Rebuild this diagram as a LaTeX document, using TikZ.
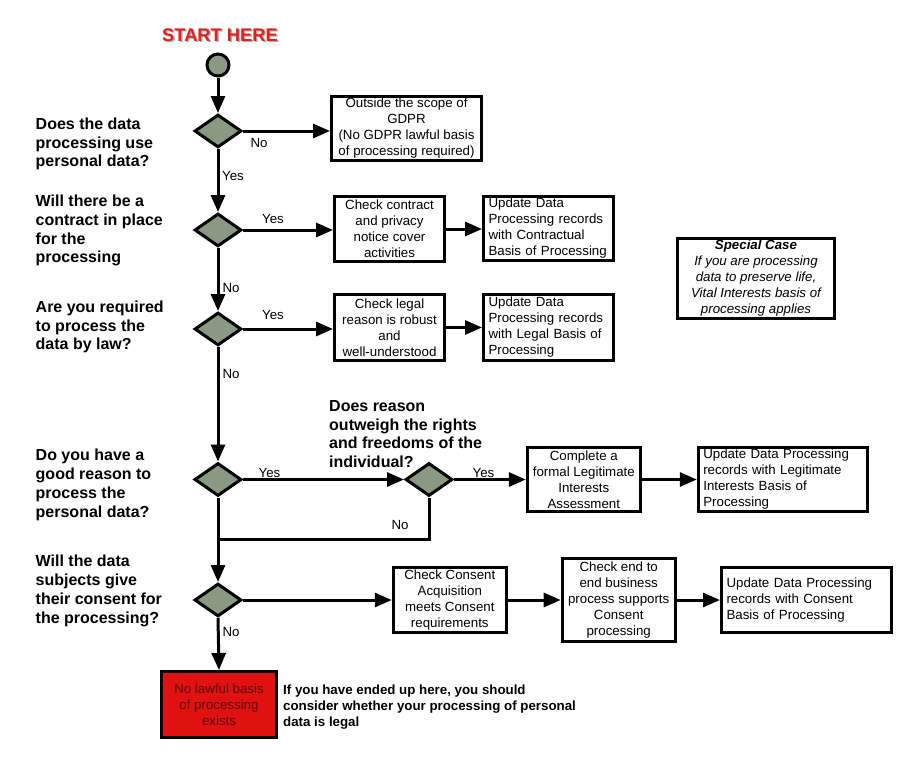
\documentclass[tikz,border=0pt]{standalone}
\usepackage{fontspec}
\setmainfont{Liberation Sans}
\usetikzlibrary{arrows.meta,shapes.geometric}
\definecolor{decfill}{RGB}{137,153,131}
\definecolor{stopred}{RGB}{224,18,18}
\definecolor{startred}{RGB}{222,32,32}
\definecolor{stoptext}{RGB}{95,12,12}
\definecolor{shade}{RGB}{175,175,175}

\begin{document}
\begin{tikzpicture}[x=1pt,y=-1pt,
  txt/.style={font=\fontsize{13.3}{16}\selectfont},
  question/.style={font=\bfseries\fontsize{16}{18.8}\selectfont, align=left, anchor=west, inner sep=0pt},
  box/.style={draw, line width=3pt, fill=white, inner sep=0pt, align=center, txt},
  lbox/.style={box, align=left, inner xsep=5pt},
  decision/.style={diamond, draw, line width=3pt, fill=decfill, inner sep=0pt,
                   minimum width=47pt, minimum height=33pt},
  lbl/.style={txt, inner sep=0pt},
  flow/.style={line width=3pt, -{Triangle[length=17pt,width=14pt]}},
  plain/.style={line width=3pt},
]
\useasboundingbox (0,0) rectangle (920,776);
\fill[white] (0,0) rectangle (920,776);

% title and start point
\node[font=\bfseries\fontsize{18.3}{20}\selectfont, text=shade] (titleshadow) at (221.5,36.5) {START HERE};
\node[font=\bfseries\fontsize{18.3}{20}\selectfont, text=startred] (title) at (220,35) {START HERE};
\node[circle, draw, line width=3pt, fill=decfill, minimum size=22pt, inner sep=0pt] (start) at (218,65) {};

% questions on the left
\node[question] (q1) at (35.5,144) {Does the data\\processing use\\personal data?};
\node[question] (q2) at (35.5,230.5) {Will there be a\\contract in place\\for the\\processing};
\node[question] (q3) at (35.5,327) {Are you required\\to process the\\data by law?};
\node[question] (q4) at (35.5,485) {Do you have a\\good reason to\\process the\\personal data?};
\node[question] (q5) at (35.5,591) {Will the data\\subjects give\\their consent for\\the processing?};
\node[question] (q45) at (329,434) {Does reason\\outweigh the rights\\and freedoms of the\\individual?};

% decisions
\node[decision] (d1) at (218,131) {};
\node[decision] (d2) at (218,230) {};
\node[decision] (d3) at (218,329) {};
\node[decision] (d4) at (218,479.5) {};
\node[decision] (d5) at (429,479.5) {};
\node[decision] (d6) at (218,600) {};

% process boxes
\node[box, minimum width=150pt, minimum height=64pt] (b1) at (406.5,128.5)
  {Outside the scope of\\GDPR\\(No GDPR lawful basis\\of processing required)};
\node[box, minimum width=110pt, minimum height=65pt] (b2a) at (389.5,229)
  {Check contract\\and privacy\\notice cover\\activities};
\node[lbox, text width=120pt, minimum height=64pt] (b2b) at (548.5,228.5)
  {Update Data\\Processing records\\with Contractual\\Basis of Processing};
\node[box, minimum width=110pt, minimum height=66pt] (b3a) at (389.5,327.5)
  {Check legal\\reason is robust\\and\\well-understood};
\node[lbox, text width=120pt, minimum height=66pt] (b3b) at (548.5,327.5)
  {Update Data\\Processing records\\with Legal Basis of\\Processing};
\node[box, minimum width=113pt, minimum height=64pt] (b5a) at (583.8,479.5)
  {Complete a\\formal Legitimate\\Interests\\Assessment};
\node[lbox, text width=159pt, minimum height=64pt] (b5b) at (782.8,479.5)
  {Update Data Processing\\records with Legitimate\\Interests Basis of\\Processing};
\node[box, minimum width=113pt, minimum height=65pt] (b6a) at (449.8,600)
  {Check Consent\\Acquisition\\meets Consent\\requirements};
\node[box, minimum width=113pt, minimum height=83pt] (b6b) at (618.7,600)
  {Check end to\\end business\\process supports\\Consent\\processing};
\node[lbox, text width=160pt, minimum height=65pt] (b6c) at (806.5,600)
  {Update Data Processing\\records with Consent\\Basis of Processing};

% special case note
\node[box, font=\itshape\fontsize{13.3}{16}\selectfont, minimum width=157pt, minimum height=80pt] (special) at (756,278.3)
  {\textbf{Special Case}\\If you are processing\\data to preserve life,\\Vital Interests basis of\\processing applies};

% end point without a lawful basis
\node[box, fill=stopred, text=stoptext, minimum width=115pt, minimum height=66pt] (stop) at (219,704.5)
  {No lawful basis\\of processing\\exists};
\node[font=\bfseries\fontsize{13.3}{16}\selectfont, align=left, anchor=west, inner sep=0pt] (warn) at (283,707.5)
  {If you have ended up here, you should\\consider whether your processing of personal\\data is legal};

% connectors
\draw[flow] (start.south) -- (d1.north);
\draw[flow] (d1.east) -- (d1.east -| b1.west);
\draw[flow] (d1.south) -- (d2.north);
\draw[flow] (d2.east) -- (d2.east -| b2a.west);
\draw[flow] (b2a.east) -- (b2a.east -| b2b.west);
\draw[flow] (d2.south) -- (d3.north);
\draw[flow] (d3.east) -- (d3.east -| b3a.west);
\draw[flow] (b3a.east) -- (b3a.east -| b3b.west);
\draw[flow] (d3.south) -- (d4.north);
\draw[flow] (d4.east) -- (d5.west);
\draw[flow] (d5.east) -- (d5.east -| b5a.west);
\draw[flow] (b5a.east) -- (b5a.east -| b5b.west);
\coordinate (join) at (218,539);
\draw[plain] (d5.south) |- (join);
\draw[flow] (d4.south) -- (d6.north);
\draw[flow] (d6.east) -- (d6.east -| b6a.west);
\draw[flow] (b6a.east) -- (b6a.east -| b6b.west);
\draw[flow] (b6b.east) -- (b6b.east -| b6c.west);
\draw[flow] (d6.south) -- (stop.north);

% connector labels
\node[lbl] (l1) at (259,143) {No};
\node[lbl] (l2) at (233,176) {Yes};
\node[lbl] (l3) at (273,219) {Yes};
\node[lbl] (l4) at (231,288) {No};
\node[lbl] (l5) at (273,315) {Yes};
\node[lbl] (l6) at (231,374) {No};
\node[lbl] (l7) at (269.5,473) {Yes};
\node[lbl] (l8) at (483.5,473) {Yes};
\node[lbl] (l9) at (400,525) {No};
\node[lbl] (l10) at (231,632) {No};
\end{tikzpicture}
\end{document}
